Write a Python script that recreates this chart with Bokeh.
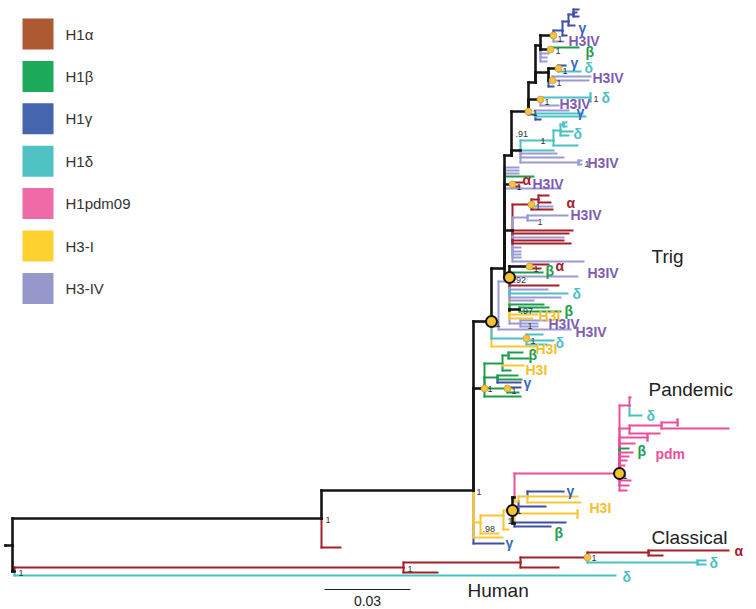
from bokeh.plotting import figure
from bokeh.models import Range1d, ColumnDataSource
from bokeh.embed import file_html
from bokeh.resources import INLINE
from bokeh.core.properties import value

# ---------------- data ----------------
# tree nodes: (name, parent, x, y, lineage) ; x = divergence position, y = tip row position
OUTGROUP_NODES = [
    ("R0", None, 5, 545, "k"),
    ("R", "R0", 12, 545, "k"),
    ("A", "R", 321, 518, "k"),
    ("", "A", 340, 547, "a"),
    ("B", "A", 473, 490, "k"),
    ("N1", "R", 14, 571, "k"),
    ("N2", "N1", 403, 567, "a"),
    ("N3", "N2", 520, 562, "a"),
    ("N4", "N3", 587, 557, "a"),
    ("N5", "N4", 648, 552, "a"),
    ("", "N5", 728, 550, "a"),
    ("", "N5", 662, 555, "a"),
    ("N6", "N4", 697, 562, "d"),
    ("", "N6", 705, 560, "d"),
    ("", "N6", 705, 564, "d"),
    ("", "N3", 558, 567, "a"),
    ("", "N2", 437, 572, "a"),
    ("", "N1", 615, 575, "d"),
]

LOWER_NODES = [
    ("", "B", 503, 543, "g"),
    ("", "B", 502, 537, "y"),
    ("C", "B", 480, 522, "y"),
    ("", "C", 498, 533, "y"),
    ("F", "C", 503, 515, "y"),
    ("", "F", 508, 529, "y"),
    ("E", "F", 512, 510, "y"),
    ("G", "E", 514, 497, "k"),
    ("H", "E", 514, 523, "k"),
    ("G2", "G", 518, 501, "y"),
    ("G3", "G2", 527, 496, "y"),
    ("", "G3", 563, 491, "g"),
    ("", "G3", 577, 496, "y"),
    ("", "G3", 580, 502, "y"),
    ("", "G2", 545, 506, "g"),
    ("YT", "H", 577, 513, "y"),
    ("", "YT", 577, 510, "y"),
    ("", "YT", 577, 517, "y"),
    ("", "H", 565, 522, "g"),
    ("", "H", 550, 526, "g"),
]

PDM_NODES = [
    ("PDM", "G", 619, 473, "p"),
    ("P1", "PDM", 629, 405, "p"),
    ("", "P1", 630, 397, "p"),
    ("", "P1", 641, 415, "d"),
    ("P2", "PDM", 629, 428, "p"),
    ("P3", "P2", 661, 425, "p"),
    ("PT", "P3", 677, 422, "p"),
    ("", "PT", 677, 419, "p"),
    ("", "PT", 677, 425, "p"),
    ("", "P3", 728, 428, "p"),
    ("", "P2", 659, 433, "p"),
    ("PT2", "PDM", 647, 437, "p"),
    ("", "PT2", 647, 434, "p"),
    ("", "PT2", 647, 440, "p"),
    ("", "PDM", 634, 443, "p"),
    ("", "PDM", 628, 448, "b"),
    ("", "PDM", 632, 452, "p"),
    ("", "PDM", 628, 456, "p"),
    ("", "PDM", 626, 460, "p"),
    ("", "PDM", 624, 465, "p"),
    ("", "PDM", 630, 480, "p"),
    ("", "PDM", 628, 485, "p"),
    ("", "PDM", 626, 490, "p"),
]

TRIG_BASE_NODES = [
    ("TG", "B", 484, 388, "k"),
    ("TG1", "TG", 502, 363, "b"),
    ("TG2", "TG1", 508, 355, "b"),
    ("", "TG2", 522, 352, "b"),
    ("", "TG2", 528, 358, "b"),
    ("", "TG1", 523, 365, "y"),
    ("", "TG1", 510, 370, "b"),
    ("TG3", "TG", 497, 377, "b"),
    ("", "TG3", 517, 375, "b"),
    ("", "TG3", 521, 379, "b"),
    ("", "TG3", 520, 382, "g"),
    ("TG4", "TG", 507, 388, "b"),
    ("", "TG4", 520, 387, "g"),
    ("", "TG4", 518, 392, "b"),
    ("", "TG", 520, 396, "b"),
    ("TC", "B", 491, 321, "k"),
    ("TU", "TC", 504, 268, "k"),
    ("LV", "TC", 498, 326, "v"),
    ("", "LV", 570, 329, "v"),
    ("", "LV", 506, 281, "v"),
    ("CC", "TC", 526, 338, "d"),
    ("", "CC", 542, 334, "d"),
    ("", "CC", 553, 340, "d"),
    ("", "CC", 546, 344, "d"),
    ("", "TC", 535, 346, "y"),
]

TRIG_MID_NODES = [
    ("N92", "TU", 509, 277, "k"),
    ("AC", "N92", 529, 266, "k"),
    ("", "AC", 548, 264, "a"),
    ("", "AC", 540, 268, "a"),
    ("", "N92", 542, 272, "b"),
    ("", "N92", 577, 276, "v"),
    ("", "N92", 558, 285, "a"),
    ("", "N92", 547, 289, "v"),
    ("", "N92", 567, 293, "d"),
    ("", "N92", 560, 297, "v"),
    ("", "N92", 533, 300, "v"),
    ("Y1", "N92", 509, 310, "y"),
    ("", "Y1", 543, 304, "b"),
    ("N97", "Y1", 519, 309, "k"),
    ("", "N97", 548, 307, "b"),
    ("", "N97", 560, 311, "b"),
    ("", "Y1", 537, 314, "y"),
    ("", "Y1", 532, 318, "y"),
    ("LN", "N92", 520, 323, "v"),
    ("", "LN", 547, 320, "v"),
    ("", "LN", 537, 323, "v"),
    ("", "LN", 537, 326, "v"),
    ("RC", "TU", 512, 230, "k"),
    ("ACa", "RC", 531, 204, "a"),
    ("RA1", "ACa", 538, 199, "a"),
    ("", "RA1", 548, 195, "a"),
    ("", "RA1", 550, 202, "a"),
    ("", "ACa", 552, 206, "v"),
    ("", "ACa", 552, 209, "a"),
    ("LV2", "RC", 527, 217, "v"),
    ("", "LV2", 567, 215, "v"),
    ("", "LV2", 537, 220, "v"),
    ("", "RC", 572, 230, "a"),
    ("", "RC", 568, 233, "a"),
    ("", "RC", 563, 237, "v"),
    ("", "RC", 563, 240, "a"),
    ("", "RC", 570, 243, "a"),
    ("", "RC", 520, 247, "v"),
    ("", "RC", 520, 251, "v"),
    ("", "RC", 520, 254, "v"),
    ("", "RC", 520, 257, "v"),
    ("", "RC", 583, 261, "v"),
    ("", "TU", 560, 188, "v"),
    ("AC2", "TU", 512, 184, "k"),
    ("", "AC2", 522, 182, "a"),
    ("", "AC2", 519, 186, "a"),
    ("", "TU", 533, 176, "b"),
    ("", "TU", 518, 173, "v"),
    ("", "TU", 518, 170, "v"),
    ("", "TU", 518, 167, "v"),
]

TRIG_UPPER_NODES = [
    ("T91", "TU", 511, 155, "k"),
    ("CD", "T91", 520, 150, "k"),
    ("CDn", "CD", 553, 140, "d"),
    ("CDm", "CDn", 560, 130, "d"),
    ("CDt", "CDm", 563, 124, "d"),
    ("", "CDt", 566, 122, "d"),
    ("", "CDt", 566, 126, "d"),
    ("", "CDm", 572, 131, "d"),
    ("", "CDm", 568, 135, "d"),
    ("", "CDn", 577, 145, "d"),
    ("", "CD", 553, 150, "d"),
    ("", "CD", 556, 153, "v"),
    ("", "CD", 563, 157, "v"),
    ("LT2", "CD", 578, 162, "v"),
    ("", "LT2", 581, 160, "v"),
    ("", "LT2", 581, 164, "v"),
    ("T1c", "T91", 528, 111, "k"),
    ("C1", "T1c", 540, 99, "k"),
    ("CT", "C1", 590, 97, "d"),
    ("", "CT", 590, 93, "d"),
    ("", "CT", 590, 101, "d"),
    ("", "C1", 558, 105, "v"),
    ("BN", "T1c", 535, 114, "g"),
    ("", "BN", 568, 110, "v"),
    ("", "BN", 582, 113, "d"),
    ("", "BN", 585, 116, "d"),
    ("", "BN", 540, 119, "g"),
]

TRIG_TOP_NODES = [
    ("T2", "T1c", 535, 82, "k"),
    ("T3", "T2", 540, 45, "k"),
    ("T4", "T2", 548, 72, "k"),
    ("BC", "T3", 553, 35, "k"),
    ("GC", "T3", 550, 49, "k"),
    ("", "GC", 578, 47, "b"),
    ("", "T3", 548, 53, "v"),
    ("", "T3", 546, 57, "v"),
    ("", "T3", 546, 61, "v"),
    ("B1", "BC", 562, 30, "g"),
    ("", "BC", 563, 41, "v"),
    ("B2", "B1", 568, 21, "g"),
    ("", "B1", 566, 35, "g"),
    ("B3", "B2", 573, 14, "g"),
    ("", "B2", 574, 25, "g"),
    ("", "B3", 578, 9, "g"),
    ("", "B3", 576, 12, "g"),
    ("", "B3", 578, 16, "g"),
    ("CG", "T4", 558, 68, "k"),
    ("", "CG", 565, 65, "g"),
    ("", "CG", 580, 71, "d"),
    ("CL", "T4", 552, 80, "k"),
    ("", "CL", 590, 76, "v"),
    ("", "CL", 588, 80, "v"),
    ("", "T4", 553, 86, "g"),
]

SMALL_SUPPORT_NODES = ["BC", "GC", "CG", "CL", "C1", "T1c", "AC2", "ACa", "AC",
                       "CC", "TG", "TG4", "N4"]
BIG_SUPPORT_NODES = ["N92", "TC", "E", "PDM"]

SUPPORT_X = [557, 555, 562, 556, 544, 532, 515, 540, 584, 593, 516, 535, 537, 533,
             513, 520, 527, 495, 530, 487, 511, 622, 476, 482, 507, 516, 325, 18, 407, 591]
SUPPORT_Y = [38, 50, 70, 82, 101, 112, 133, 140, 163, 98, 186, 206, 221, 268,
             279, 310, 325, 323, 340, 388, 390, 475, 491, 528, 520, 510, 519, 572, 568, 557]
SUPPORT_TEXT = ["1", "1", "1", "1", "1", "1", ".91", "1", "1", "1", "1", "1", "1", "1",
                ".92", ".97", "1", "1", "1", "1", "1", "1", "1", ".98", "1", "1", "1", "1", "1", "1"]

CLADE_TEXT = ["γ", "H3IV", "β", "γ", "δ", "H3IV", "δ", "H3IV", "γ", "δ", "H3IV", "α", "H3IV",
              "α", "H3IV", "α", "β", "H3IV", "δ", "β", "H3I", "H3IV", "H3IV", "δ", "H3I", "β",
              "H3I", "γ", "δ", "β", "pdm", "γ", "H3I", "β", "γ", "α", "δ", "δ"]
CLADE_X = [578, 568, 585, 570, 584, 592, 601, 559, 576, 573, 587, 522, 532,
           566, 570, 555, 545, 587, 572, 564, 538, 548, 575, 555, 535, 528,
           525, 523, 646, 637, 655, 566, 589, 554, 505, 734, 709, 622]
CLADE_Y = [27, 40, 51, 62, 67, 77, 97, 103, 111, 133, 162, 179, 183,
           202, 214, 265, 270, 272, 293, 310, 315, 323, 331, 342, 348, 354,
           369, 382, 415, 450, 453, 490, 507, 532, 542, 550, 562, 576]
CLADE_GROUP = ["g", "v", "b", "g", "d", "v", "d", "v", "g", "d", "v", "a", "v",
               "a", "v", "a", "b", "v", "d", "b", "y", "v", "v", "d", "y", "b",
               "y", "g", "d", "b", "p", "g", "y", "b", "g", "a", "d", "d"]

GROUP_NAMES = ["Trig", "Pandemic", "Classical", "Human"]
GROUP_X = [651, 648, 651, 467]
GROUP_Y = [256, 389, 537, 590]

LEGEND_LABELS = ["H1α", "H1β", "H1γ", "H1δ", "H1pdm09", "H3-I", "H3-IV"]
LEGEND_COLORS = ["#AD5A33", "#1DAA5A", "#4565AE", "#4FC3C3", "#EE6BA8", "#FDD12E", "#9698CB"]

SCALE_BAR_VALUE = 0.03
PX_PER_UNIT = 86 / 0.03
SCALE_BAR_X0 = 324
SCALE_BAR_Y = 589

LINE_COLORS = {"k": "#141414", "a": "#A3202A", "b": "#1E9C4E", "g": "#3F4FA5",
               "d": "#47C1C4", "p": "#EC4F9A", "y": "#F9C733", "v": "#9B9BD3"}
LABEL_COLORS = {"a": "#A3202A", "b": "#1E9C4E", "g": "#3469C0", "d": "#48C0C4",
                "v": "#7F5CB3", "y": "#F6C02C", "p": "#EC4F9A"}

# ---------------- build ----------------
rows = (OUTGROUP_NODES + LOWER_NODES + PDM_NODES + TRIG_BASE_NODES +
        TRIG_MID_NODES + TRIG_UPPER_NODES + TRIG_TOP_NODES)
pos = {}
vert = []
horiz = []
for name, parent, x, y, g in rows:
    if name:
        pos[name] = (x, y)
    if parent is None:
        continue
    px, py = pos[parent]
    horiz.append((px, y, x, y, g))
    vert.append((px, py, px, y, g))

FONT = "Liberation Sans"

p = figure(width=756, height=609, output_backend="svg", toolbar_location=None,
           x_range=Range1d(0, 756), y_range=Range1d(609, 0), min_border=0)
p.axis.visible = False
p.grid.visible = False
p.outline_line_color = None
p.background_fill_color = "white"


def add_segments(items, width):
    if not items:
        return
    src = ColumnDataSource(dict(
        x0=[s[0] for s in items], y0=[s[1] for s in items],
        x1=[s[2] for s in items], y1=[s[3] for s in items],
        c=[LINE_COLORS[s[4]] for s in items]))
    p.segment("x0", "y0", "x1", "y1", source=src, line_color="c",
              line_width=width, line_cap="square")


col_v = sorted([s for s in vert if s[4] != "k"], key=lambda s: -abs(s[3] - s[1]))
col_h = [s for s in horiz if s[4] != "k"]
blk_v = [s for s in vert if s[4] == "k"]
blk_h = [s for s in horiz if s[4] == "k"]
add_segments(col_v, 2)
add_segments(col_h, 2)
add_segments(blk_v, 2.6)
add_segments(blk_h, 2.6)

# support circles
p.scatter([pos[n][0] for n in SMALL_SUPPORT_NODES], [pos[n][1] for n in SMALL_SUPPORT_NODES],
          size=7, fill_color="#F6C445", line_color="#B8922A", line_width=0.6)
p.scatter([pos[n][0] for n in BIG_SUPPORT_NODES], [pos[n][1] for n in BIG_SUPPORT_NODES],
          size=11, fill_color="#F6C231", line_color="#111111", line_width=2)

# support values
p.text(SUPPORT_X, SUPPORT_Y, text=SUPPORT_TEXT, text_font=value(FONT),
       text_font_size="9px", text_color="#333333", text_baseline="middle", text_align="left")

# clade labels
p.text(CLADE_X, CLADE_Y, text=CLADE_TEXT, text_font=value(FONT), text_font_size="14px",
       text_font_style="bold", text_color=[LABEL_COLORS[g] for g in CLADE_GROUP],
       text_baseline="middle", text_align="left")

# group names
p.text(GROUP_X, GROUP_Y, text=GROUP_NAMES, text_font=value(FONT), text_font_size="19px",
       text_color="#222222", text_baseline="middle", text_align="left")

# scale bar
p.segment([SCALE_BAR_X0], [SCALE_BAR_Y], [SCALE_BAR_X0 + SCALE_BAR_VALUE * PX_PER_UNIT],
          [SCALE_BAR_Y], line_color="#222222", line_width=1)
p.text([SCALE_BAR_X0 + SCALE_BAR_VALUE * PX_PER_UNIT / 2], [SCALE_BAR_Y + 11],
       text=[f"{SCALE_BAR_VALUE:.2f}"], text_font=value(FONT), text_font_size="14px",
       text_color="#222222", text_baseline="middle", text_align="center")

# legend
ly = [33.5 + 42.4 * i for i in range(len(LEGEND_LABELS))]
p.rect([37.5] * len(ly), ly, width=31, height=31, width_units="screen", height_units="screen",
       fill_color=LEGEND_COLORS, line_color=None)
p.text([65] * len(ly), ly, text=LEGEND_LABELS, text_font=value(FONT), text_font_size="15px",
       text_color="#333333", text_baseline="middle", text_align="left")

open("out.html", "w").write(file_html(p, INLINE))
